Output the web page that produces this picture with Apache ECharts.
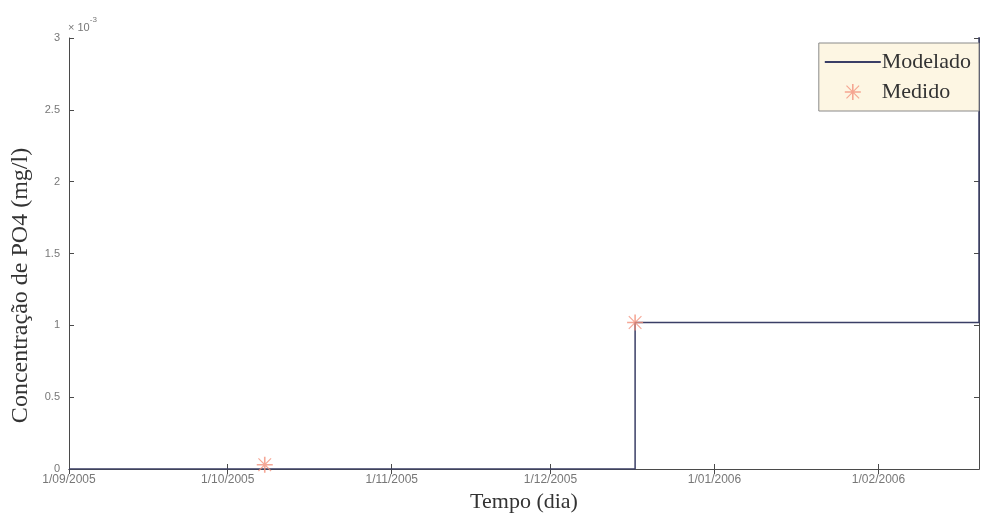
<!DOCTYPE html>
<html>
<head>
<meta charset="utf-8">
<script src="https://cdn.jsdelivr.net/npm/echarts@6/dist/echarts.min.js"></script>
<style>
  html, body { margin: 0; padding: 0; background: #fff; }
  #chart { width: 983px; height: 519px; }
</style>
</head>
<body>
<div id="chart"></div>
<script>
// tick dates on the x axis (1st of each month)
const monthTicks = ['2005-09-01', '2005-10-01', '2005-11-01', '2005-12-01', '2006-01-01', '2006-02-01']
const axisStart = '2005-09-01'
const axisEnd = '2006-02-20'

// modelled step curve (mg/l)
const modeladoDates = ['2005-09-01', '2005-12-17', '2005-12-17', '2006-02-20', '2006-02-20']
const modeladoValues = [0, 0, 0.00102, 0.00102, 0.0032]

// measured points (mg/l)
const medidoDates = ['2005-10-08', '2005-12-17']
const medidoValues = [0.00003, 0.00102]

function ts(s) {
  const [y, m, d] = s.split('-').map(Number)
  return new Date(y, m - 1, d).getTime()
}

function fmtDate(v) {
  const d = new Date(v)
  return `${d.getDate()}/${String(d.getMonth() + 1).padStart(2, '0')}/${d.getFullYear()}`
}

const tickTs = monthTicks.map(ts)
const starPath = 'path://M9,0L11,0L11,20L9,20Z M0,9L20,9L20,11L0,11Z M2.6,1.6L18.4,17.4L17.4,18.4L1.6,2.6Z M17.4,1.6L18.4,2.6L2.6,18.4L1.6,17.4Z'
const linePath = 'path://M0,0L100,0L100,3.5L0,3.5Z'

const axisColor = '#4a4a4a'
const labelColor = '#777'
const lineColor = '#3a3e66'

const chart = echarts.init(document.getElementById('chart'))

chart.setOption({
  animation: false,
  grid: { left: 69, right: 4, top: 38, bottom: 50 },
  legend: {
    orient: 'vertical',
    right: 4,
    top: 43,
    backgroundColor: '#fdf6e3',
    borderColor: '#8a8a8a',
    borderWidth: 1,
    padding: [8, 8, 8, 6],
    itemGap: 8,
    itemWidth: 56,
    itemHeight: 16,
    textStyle: { fontFamily: 'Liberation Serif', fontSize: 22, color: '#333', padding: [0, 0, 0, -4] },
    data: [
      { name: 'Modelado', icon: linePath, itemStyle: { color: lineColor } },
      { name: 'Medido', icon: starPath }
    ]
  },
  graphic: [
    {
      type: 'text',
      left: 68,
      top: 16,
      style: {
        text: '{a|× 10}{b|-3}',
        rich: {
          a: { fontFamily: 'Liberation Sans', fontSize: 11, fill: labelColor, padding: [6, 0, 0, 0] },
          b: { fontFamily: 'Liberation Sans', fontSize: 8, fill: labelColor, verticalAlign: 'top' }
        }
      }
    }
  ],
  xAxis: [
    {
      type: 'value',
      min: ts(axisStart),
      max: ts(axisEnd),
      name: 'Tempo (dia)',
      nameLocation: 'middle',
      nameGap: 18,
      nameTextStyle: { fontFamily: 'Liberation Serif', fontSize: 22, color: '#333' },
      axisLine: { lineStyle: { color: axisColor, width: 1 } },
      axisTick: { inside: true, length: 5, customValues: tickTs, lineStyle: { color: axisColor } },
      axisLabel: {
        customValues: tickTs,
        formatter: fmtDate,
        color: labelColor,
        fontFamily: 'Liberation Sans',
        fontSize: 12,
        margin: 5,
        showMinLabel: true
      },
      splitLine: { show: false }
    },
    {
      type: 'value',
      position: 'top',
      min: ts(axisStart),
      max: ts(axisEnd),
      axisLine: { show: true, lineStyle: { color: axisColor, width: 1 } },
      axisTick: { inside: true, length: 5, customValues: tickTs, lineStyle: { color: axisColor } },
      axisLabel: { show: false, customValues: tickTs },
      splitLine: { show: false }
    }
  ],
  yAxis: [
    {
      type: 'value',
      min: 0,
      max: 0.003,
      interval: 0.0005,
      name: 'Concentração de PO4 (mg/l)',
      nameLocation: 'middle',
      nameGap: 36,
      nameTextStyle: { fontFamily: 'Liberation Serif', fontSize: 24, color: '#333', padding: [0, 64, 0, 0] },
      axisLine: { show: true, lineStyle: { color: axisColor, width: 1 } },
      axisTick: { show: true, inside: true, length: 5, lineStyle: { color: axisColor } },
      axisLabel: {
        formatter: (v) => String(parseFloat((v * 1000).toFixed(2))),
        color: labelColor,
        fontFamily: 'Liberation Sans',
        fontSize: 11,
        margin: 9
      },
      splitLine: { show: false }
    },
    {
      type: 'value',
      position: 'right',
      min: 0,
      max: 0.003,
      interval: 0.0005,
      axisLine: { show: true, lineStyle: { color: axisColor, width: 1 } },
      axisTick: { show: true, inside: true, length: 5, lineStyle: { color: axisColor } },
      axisLabel: { show: false },
      splitLine: { show: false }
    }
  ],
  series: [
    {
      name: 'Modelado',
      type: 'line',
      symbol: 'none',
      clip: true,
      data: modeladoDates.map((d, i) => [ts(d), modeladoValues[i]]),
      itemStyle: { color: lineColor },
      lineStyle: { color: lineColor, width: 1.5 }
    },
    {
      name: 'Medido',
      type: 'scatter',
      symbol: starPath,
      symbolSize: 16,
      data: medidoDates.map((d, i) => [ts(d), medidoValues[i]]),
      itemStyle: { color: '#f2917c' },
      z: 3
    }
  ]
})
</script>
</body>
</html>
